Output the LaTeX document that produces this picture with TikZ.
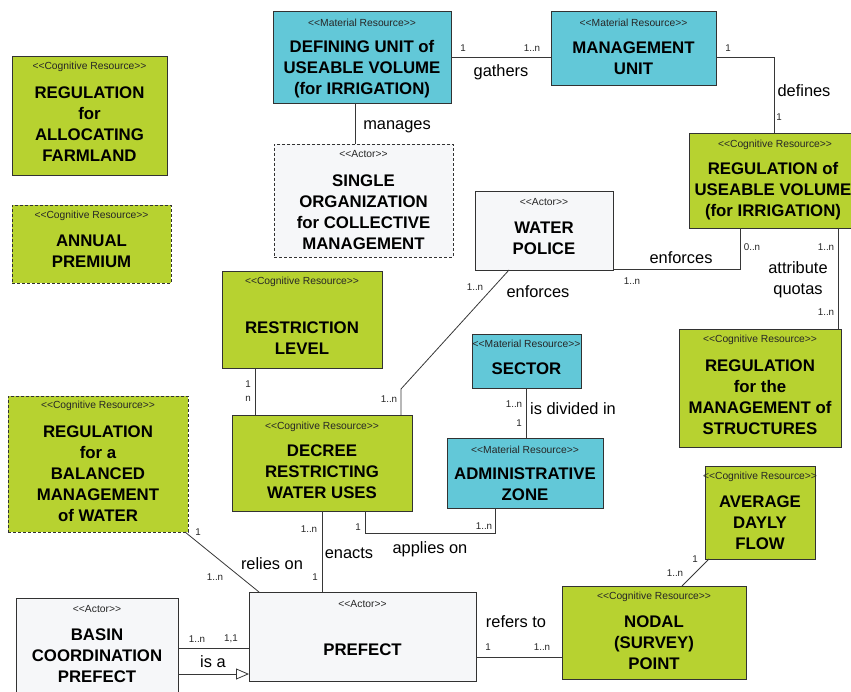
\documentclass[tikz,border=0pt]{standalone}
\usepackage{fontspec}
\newfontfamily\arialf{Liberation Sans}
\usetikzlibrary{arrows.meta,calc}
\definecolor{cgreen}{RGB}{183,210,48}
\definecolor{ccyan}{RGB}{98,200,216}
\definecolor{cgray}{RGB}{246,247,249}
\definecolor{cborder}{RGB}{50,50,50}
\definecolor{cline}{RGB}{55,55,55}
\begin{document}
\begin{tikzpicture}[x=1pt,y=-1pt,
 box/.style={draw=cborder, line width=0.9pt, inner sep=0pt, outer sep=0pt},
 cog/.style={box, fill=cgreen},
 mat/.style={box, fill=ccyan},
 act/.style={box, fill=cgray},
 hyp/.style={dash pattern=on 3pt off 2pt},
 stereo/.style={font=\arialf\fontsize{10.3}{12}\selectfont, inner sep=0pt, text=black!85},
 title/.style={font=\arialf\bfseries\fontsize{16.8}{21}\selectfont, align=center, inner sep=0pt},
 conn/.style={draw=cline, line width=0.8pt},
 mult/.style={font=\arialf\fontsize{9.8}{11}\selectfont, inner sep=0pt, text=black!85},
 lab/.style={font=\arialf\fontsize{16.4}{21}\selectfont, inner sep=0pt, align=center},
]
\useasboundingbox (0,0) rectangle (851,692);

% ---------- boxes ----------
\node[cog, minimum width=155pt, minimum height=119pt] (fa) at (89.5,115.5) {};
\node[stereo] (fa-s) at (89.5,67) {<<Cognitive Resource>>};
\node[title] (fa-t) at (89.5,124) {REGULATION\\for\\ALLOCATING\\FARMLAND};

\node[cog, hyp, minimum width=159pt, minimum height=78pt] (ap) at (91.5,244) {};
\node[stereo] (ap-s) at (91.5,216) {<<Cognitive Resource>>};
\node[title] (ap-t) at (91.5,251) {ANNUAL\\PREMIUM};

\node[mat, minimum width=178pt, minimum height=92pt] (du) at (362,57) {};
\node[stereo] (du-s) at (362,23) {<<Material Resource>>};
\node[title] (du-t) at (362,69) {DEFINING UNIT of\\USEABLE VOLUME\\(for IRRIGATION)};

\node[mat, minimum width=165pt, minimum height=74pt] (mu) at (633.5,48) {};
\node[stereo] (mu-s) at (633.5,23) {<<Material Resource>>};
\node[title] (mu-t) at (633.5,58) {MANAGEMENT\\UNIT};

\node[act, hyp, minimum width=179pt, minimum height=113pt] (so) at (363.5,200.5) {};
\node[stereo] (so-s) at (363.5,154) {<<Actor>>};
\node[title] (so-t) at (363.5,212) {SINGLE\\ORGANIZATION\\for COLLECTIVE\\MANAGEMENT};

\node[cog, minimum width=168pt, minimum height=95pt] (ruv) at (773,180.5) {};
\node[stereo] (ruv-s) at (775,145) {<<Cognitive Resource>>};
\node[title] (ruv-t) at (773,191) {REGULATION of\\USEABLE VOLUME\\(for IRRIGATION)};

\node[act, minimum width=138pt, minimum height=79pt] (wp) at (544,230.5) {};
\node[stereo] (wp-s) at (544,202) {<<Actor>>};
\node[title] (wp-t) at (544,238) {WATER\\POLICE};

\node[cog, minimum width=160pt, minimum height=97pt] (rl) at (302,319.5) {};
\node[stereo] (rl-s) at (302,282) {<<Cognitive Resource>>};
\node[title] (rl-t) at (302,338) {RESTRICTION\\LEVEL};

\node[cog, minimum width=180pt, minimum height=96pt] (dec) at (322,463) {};
\node[stereo] (dec-s) at (322,427) {<<Cognitive Resource>>};
\node[title] (dec-t) at (322,472) {DECREE\\RESTRICTING\\WATER USES};

\node[cog, hyp, minimum width=180pt, minimum height=136pt] (rb) at (98,464) {};
\node[stereo] (rb-s) at (98,406) {<<Cognitive Resource>>};
\node[title] (rb-t) at (98,474) {REGULATION\\for a\\BALANCED\\MANAGEMENT\\of WATER};

\node[mat, minimum width=109pt, minimum height=54pt] (sec) at (526.5,361) {};
\node[stereo] (sec-s) at (526.5,344) {<<Material Resource>>};
\node[title] (sec-t) at (526.5,369) {SECTOR};

\node[mat, minimum width=156pt, minimum height=70pt] (az) at (525,473) {};
\node[stereo] (az-s) at (525,450) {<<Material Resource>>};
\node[title] (az-t) at (525,484) {ADMINISTRATIVE\\ZONE};

\node[cog, minimum width=162pt, minimum height=118pt] (rs) at (760,388) {};
\node[stereo] (rs-s) at (760,340) {<<Cognitive Resource>>};
\node[title] (rs-t) at (760,397) {REGULATION\\for the\\MANAGEMENT of\\STRUCTURES};

\node[cog, minimum width=110pt, minimum height=93pt] (adf) at (760,512.5) {};
\node[stereo] (adf-s) at (760,477) {<<Cognitive Resource>>};
\node[title] (adf-t) at (760,523) {AVERAGE\\DAYLY\\FLOW};

\node[cog, minimum width=184pt, minimum height=93pt] (np) at (654,632.5) {};
\node[stereo] (np-s) at (654,597) {<<Cognitive Resource>>};
\node[title] (np-t) at (654,643) {NODAL\\(SURVEY)\\POINT};

\node[act, minimum width=227pt, minimum height=89pt] (pr) at (362.5,636.5) {};
\node[stereo] (pr-s) at (362.5,604) {<<Actor>>};
\node[title] (pr-t) at (362.5,650) {PREFECT};

\node[act, minimum width=162pt, minimum height=107pt] (bp) at (97,651.5) {};
\node[stereo] (bp-s) at (97,609) {<<Actor>>};
\node[title] (bp-t) at (97,656) {BASIN\\COORDINATION\\PREFECT};

% ---------- bend points ----------
\coordinate (b1) at (401,389);
\coordinate (b2) at (495,533);

% ---------- connectors ----------
\draw[conn] (du.east |- 0,57) -- (mu.west |- 0,57);
\draw[conn] (mu.east |- 0,57) -| ($(ruv.north west)+(85,0)$);
\draw[conn] (du.south -| 355,0) -- (so.north -| 355,0);
\draw[conn] (wp.east |- 0,269) -| ($(ruv.south west)+(51,0)$);
\draw[conn] (ruv.south -| 838,0) -- (rs.north -| 838,0);
\draw[conn] ($(wp.south west)+(34,0)$) -- (b1) -- (dec.north -| b1);
\draw[conn] (rl.south -| 255,0) -- (dec.north -| 255,0);
\draw[conn] (sec.south -| 526,0) -- (az.north -| 526,0);
\draw[conn] (dec.south -| 365,0) |- (b2) -- (az.south -| b2);
\draw[conn] (dec.south -| 322,0) -- (pr.north -| 322,0);
\draw[conn] ($(rb.south east)+(-3,0)$) -- ($(pr.north west)+(10,0)$);
\draw[conn] (bp.east |- 0,648) -- (pr.west |- 0,648);
\draw[conn, -{Triangle[open, length=13pt, width=11pt]}] (bp.east |- 0,674) -- (pr.west |- 0,674);
\draw[conn] (pr.east |- 0,657) -- (np.west |- 0,657);
\draw[conn] (np.north -| 682,0) -- ($(adf.south west)+(4,0)$);

% ---------- labels ----------
\node[mult] (m1) at (463,48) {1};
\node[mult] (m2) at (532,48) {1..n};
\node[lab] (l1) at (501,72) {gathers};
\node[mult] (m3) at (728,48) {1};
\node[lab] (l2) at (804,91) {defines};
\node[mult] (m4) at (779,117) {1};
\node[lab] (l3) at (397,127) {manages};
\node[lab] (l4) at (681,258) {enforces};
\node[mult] (m5) at (752,247) {0..n};
\node[mult] (m6) at (826,247) {1..n};
\node[lab] (l5) at (798,280) {attribute\\quotas};
\node[mult] (m7) at (826,312) {1..n};
\node[mult] (m8) at (475,287) {1..n};
\node[lab] (l6) at (538,292) {enforces};
\node[mult] (m9) at (632,281) {1..n};
\node[mult] (m10) at (248,384) {1};
\node[mult] (m11) at (248,399) {n};
\node[mult] (m12) at (389,399) {1..n};
\node[mult] (m13) at (514,404) {1..n};
\node[mult] (m14) at (519,423) {1};
\node[lab] (l7) at (573,409) {is divided in};
\node[mult] (m15) at (484,526) {1..n};
\node[mult] (m16) at (358,527) {1};
\node[mult] (m17) at (309,529) {1..n};
\node[lab] (l8) at (430,549) {applies on};
\node[lab] (l9) at (349,553) {enacts};
\node[mult] (m18) at (315,577) {1};
\node[mult] (m19) at (198,532) {1};
\node[mult] (m20) at (215,577) {1..n};
\node[lab] (l10) at (272,564) {relies on};
\node[mult] (m21) at (197,639) {1..n};
\node[mult] (m22) at (231,639) {1,1};
\node[lab] (l11) at (213,662) {is a};
\node[lab] (l12) at (516,622) {refers to};
\node[mult] (m23) at (488,647) {1};
\node[mult] (m24) at (542,647) {1..n};
\node[mult] (m25) at (695,559) {1};
\node[mult] (m26) at (675,573) {1..n};
\end{tikzpicture}
\end{document}
